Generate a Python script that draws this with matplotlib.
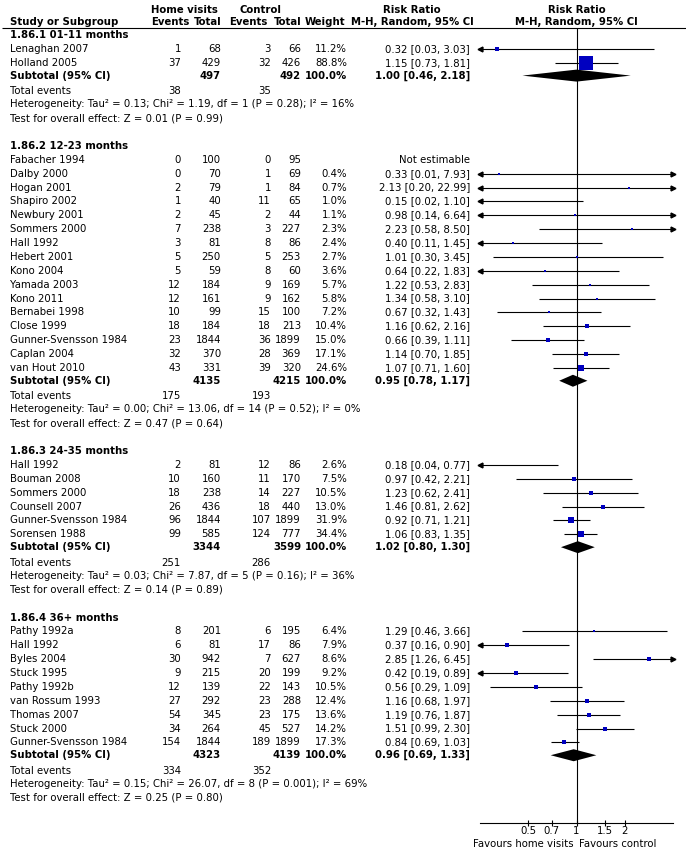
import matplotlib.pyplot as plt
import numpy as np

plt.rcParams['font.family'] = ['DejaVu Sans']

sections = ['1.86.1 01-11 months', '1.86.2 12-23 months', '1.86.3 24-35 months', '1.86.4 36+ months']

studies = [
    ['Lenaghan 2007', 'Holland 2005'],
    ['Fabacher 1994', 'Dalby 2000', 'Hogan 2001', 'Shapiro 2002', 'Newbury 2001', 'Sommers 2000',
     'Hall 1992', 'Hebert 2001', 'Kono 2004', 'Yamada 2003', 'Kono 2011', 'Bernabei 1998',
     'Close 1999', 'Gunner-Svensson 1984', 'Caplan 2004', 'van Hout 2010'],
    ['Hall 1992', 'Bouman 2008', 'Sommers 2000', 'Counsell 2007', 'Gunner-Svensson 1984', 'Sorensen 1988'],
    ['Pathy 1992a', 'Hall 1992', 'Byles 2004', 'Stuck 1995', 'Pathy 1992b', 'van Rossum 1993',
     'Thomas 2007', 'Stuck 2000', 'Gunner-Svensson 1984'],
]
home_events = [[1, 37],
               [0, 0, 2, 1, 2, 7, 3, 5, 5, 12, 12, 10, 18, 23, 32, 43],
               [2, 10, 18, 26, 96, 99],
               [8, 6, 30, 9, 12, 27, 54, 34, 154]]
home_total = [[68, 429],
              [100, 70, 79, 40, 45, 238, 81, 250, 59, 184, 161, 99, 184, 1844, 370, 331],
              [81, 160, 238, 436, 1844, 585],
              [201, 81, 942, 215, 139, 292, 345, 264, 1844]]
ctrl_events = [[3, 32],
               [0, 1, 1, 11, 2, 3, 8, 5, 8, 9, 9, 15, 18, 36, 28, 39],
               [12, 11, 14, 18, 107, 124],
               [6, 17, 7, 20, 22, 23, 23, 45, 189]]
ctrl_total = [[66, 426],
              [95, 69, 84, 65, 44, 227, 86, 253, 60, 169, 162, 100, 213, 1899, 369, 320],
              [86, 170, 227, 440, 1899, 777],
              [195, 86, 627, 199, 143, 288, 175, 527, 1899]]
weights = [[11.2, 88.8],
           [None, 0.4, 0.7, 1.0, 1.1, 2.3, 2.4, 2.7, 3.6, 5.7, 5.8, 7.2, 10.4, 15.0, 17.1, 24.6],
           [2.6, 7.5, 10.5, 13.0, 31.9, 34.4],
           [6.4, 7.9, 8.6, 9.2, 10.5, 12.4, 13.6, 14.2, 17.3]]
rr = [[0.32, 1.15],
      [None, 0.33, 2.13, 0.15, 0.98, 2.23, 0.40, 1.01, 0.64, 1.22, 1.34, 0.67, 1.16, 0.66, 1.14, 1.07],
      [0.18, 0.97, 1.23, 1.46, 0.92, 1.06],
      [1.29, 0.37, 2.85, 0.42, 0.56, 1.16, 1.19, 1.51, 0.84]]
rr_lo = [[0.03, 0.73],
         [None, 0.01, 0.20, 0.02, 0.14, 0.58, 0.11, 0.30, 0.22, 0.53, 0.58, 0.32, 0.62, 0.39, 0.70, 0.71],
         [0.04, 0.42, 0.62, 0.81, 0.71, 0.83],
         [0.46, 0.16, 1.26, 0.19, 0.29, 0.68, 0.76, 0.99, 0.69]]
rr_hi = [[3.03, 1.81],
         [None, 7.93, 22.99, 1.10, 6.64, 8.50, 1.45, 3.45, 1.83, 2.83, 3.10, 1.43, 2.16, 1.11, 1.85, 1.60],
         [0.77, 2.21, 2.41, 2.62, 1.21, 1.35],
         [3.66, 0.90, 6.45, 0.89, 1.09, 1.97, 1.87, 2.30, 1.03]]

sub_home_total = [497, 4135, 3344, 4323]
sub_ctrl_total = [492, 4215, 3599, 4139]
sub_rr = [1.00, 0.95, 1.02, 0.96]
sub_lo = [0.46, 0.78, 0.80, 0.69]
sub_hi = [2.18, 1.17, 1.30, 1.33]
tot_home_events = [38, 175, 251, 334]
tot_ctrl_events = [35, 193, 286, 352]
tau2 = ['0.13', '0.00', '0.03', '0.15']
chi2 = ['1.19', '13.06', '7.87', '26.07']
df = [1, 14, 5, 8]
chi_p = ['0.28', '0.52', '0.16', '0.001']
i2 = [16, 0, 36, 69]
z_val = ['0.01', '0.47', '0.14', '0.25']
z_p = ['0.99', '0.64', '0.89', '0.80']

xticks = [0.5, 0.7, 1, 1.5, 2]
xlim = (0.25, 4)

W, H = 686, 852
fig = plt.figure(figsize=(W / 100, H / 100), dpi=100)
ax = fig.add_axes([0, 0, 1, 1])
ax.set_xlim(0, W)
ax.set_ylim(H, 0)
ax.axis('off')

# forest panel shares the pixel y coords of the table
fx = fig.add_axes([480 / W, 0, 193 / W, 1])
fx.set_xscale('log')
fx.set_xlim(*xlim)
fx.set_ylim(H, 0)
fx.patch.set_visible(False)
for s in ['top', 'left', 'right']:
    fx.spines[s].set_visible(False)
axis_y = 823
fx.spines['bottom'].set_position(('data', axis_y))
fx.spines['bottom'].set_linewidth(0.8)
fx.set_yticks([])
fx.set_xticks(xticks)
fx.set_xticklabels([f'{t:g}' for t in xticks])
fx.xaxis.set_minor_locator(plt.NullLocator())
fx.tick_params(axis='x', direction='inout', length=5, width=0.8, pad=0, labelsize=7.3)

fs = 7.3
c_name, c_he, c_ht, c_ce, c_ct, c_w, c_rr = 10, 181, 221, 271, 301, 347, 470
blue = '#0000c0'

def row(y, cells, bold=False):
    fw = 'bold' if bold else 'normal'
    for x, s, ha in cells:
        ax.text(x, y, s, ha=ha, va='center', fontsize=fs, fontweight=fw)

# header
row(10, [(184, 'Home visits', 'center'), (260, 'Control', 'center'), (412, 'Risk Ratio', 'center')], True)
row(22, [(c_name, 'Study or Subgroup', 'left'), (190, 'Events', 'right'), (222, 'Total', 'right'),
         (268, 'Events', 'right'), (302, 'Total', 'right'), (345, 'Weight', 'right'),
         (474, 'M-H, Random, 95% CI', 'right')], True)
fx.text(1, 10, 'Risk Ratio', ha='center', va='center', fontsize=fs, fontweight='bold')
fx.text(1, 22, 'M-H, Random, 95% CI', ha='center', va='center', fontsize=fs, fontweight='bold')
ax.hlines(28, 2, W, color='black', lw=0.8)
fx.vlines(1, 28, axis_y, color='black', lw=0.8)

pitch = 13.87
y = 35.0
for k, sec in enumerate(sections):
    row(y, [(c_name, sec, 'left')], True)
    for i, name in enumerate(studies[k]):
        y += pitch
        w = weights[k][i]
        if w is None:
            row(y, [(c_name, name, 'left'), (c_he, str(home_events[k][i]), 'right'),
                    (c_ht, str(home_total[k][i]), 'right'), (c_ce, str(ctrl_events[k][i]), 'right'),
                    (c_ct, str(ctrl_total[k][i]), 'right'), (c_rr, 'Not estimable', 'right')])
            continue
        est, lo, hi = rr[k][i], rr_lo[k][i], rr_hi[k][i]
        row(y, [(c_name, name, 'left'), (c_he, str(home_events[k][i]), 'right'),
                (c_ht, str(home_total[k][i]), 'right'), (c_ce, str(ctrl_events[k][i]), 'right'),
                (c_ct, str(ctrl_total[k][i]), 'right'), (c_w, f'{w:.1f}%', 'right'),
                (c_rr, f'{est:.2f} [{lo:.2f}, {hi:.2f}]', 'right')])
        a, b = max(lo, xlim[0]), min(hi, xlim[1])
        fx.plot([a, b], [y, y], color='black', lw=0.8, solid_capstyle='butt')
        if lo < xlim[0]:
            fx.plot(a, y, marker='<', ms=3.5, color='black', clip_on=False)
        if hi > xlim[1]:
            fx.plot(b, y, marker='>', ms=3.5, color='black', clip_on=False)
        if xlim[0] <= est <= xlim[1]:
            side = (2.0 + 0.135 * w) * 0.72
            fx.plot(est, y, marker='s', ms=side, color=blue, mew=0, zorder=3)
    y += pitch - 1
    row(y, [(c_name, 'Subtotal (95% CI)', 'left'), (c_ht, str(sub_home_total[k]), 'right'),
            (c_ct, str(sub_ctrl_total[k]), 'right'), (c_w, '100.0%', 'right'),
            (c_rr, f'{sub_rr[k]:.2f} [{sub_lo[k]:.2f}, {sub_hi[k]:.2f}]', 'right')], True)
    dh = 6
    fx.fill([sub_lo[k], sub_rr[k], sub_hi[k], sub_rr[k]], [y, y - dh, y, y + dh],
            color='black', lw=0, zorder=3)
    y += pitch + 1.5
    row(y, [(c_name, 'Total events', 'left'), (c_he, str(tot_home_events[k]), 'right'),
            (c_ce, str(tot_ctrl_events[k]), 'right')])
    y += pitch - 0.5
    row(y, [(c_name, f'Heterogeneity: Tau² = {tau2[k]}; Chi² = {chi2[k]}, df = {df[k]} '
                     f'(P = {chi_p[k]}); I² = {i2[k]}%', 'left')])
    y += pitch
    row(y, [(c_name, f'Test for overall effect: Z = {z_val[k]} (P = {z_p[k]})', 'left')])
    y += 2 * pitch

fx.text(0.965, 844, 'Favours home visits', ha='right', va='center', fontsize=fs)
fx.text(1.035, 844, 'Favours control', ha='left', va='center', fontsize=fs)

fig.savefig('out.png', dpi=100)
